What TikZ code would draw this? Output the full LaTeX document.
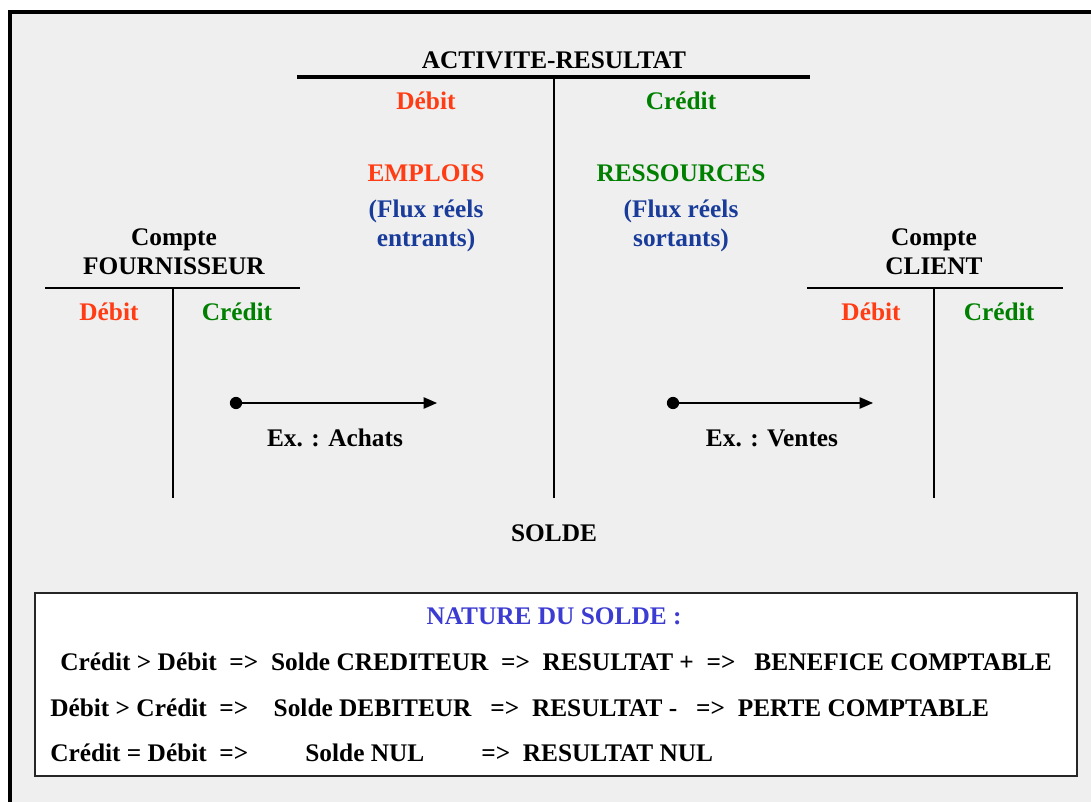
\documentclass[tikz,border=0pt]{standalone}
\usepackage{fontspec}
\setmainfont{Liberation Serif}
\usetikzlibrary{arrows.meta}

\definecolor{debit}{RGB}{255,60,20}
\definecolor{credit}{RGB}{0,128,0}
\definecolor{flux}{RGB}{25,60,155}
\definecolor{nature}{RGB}{60,60,210}
\definecolor{fond}{RGB}{239,239,239}

\begin{document}
\begin{tikzpicture}[x=0.75pt,y=-0.75pt,
  txt/.style={font=\bfseries\fontsize{19}{21.75}\selectfont,inner sep=0pt,align=center},
  deb/.style={txt,text=debit},
  cred/.style={txt,text=credit},
  fl/.style={txt,text=flux},
  ligne/.style={txt,anchor=west},
  fleche/.style={line width=1pt,-{Triangle[length=10pt,width=8.5pt]}}
]
\useasboundingbox (0,0) rectangle (1091,802);

% cadre
\fill[fond] (12,14) rectangle (1091,802);
\draw[line width=3pt] (10,802) -- (10,12) -- (1091,12);

% compte activite-resultat
\coordinate (arG) at (297,77);
\coordinate (arD) at (810,77);
\coordinate (arH) at (554,77);
\coordinate (arB) at (554,498);
\draw[line width=3pt] (arG) -- (arD);
\draw[line width=1.3pt] (arH) -- (arB);
\node [txt] (titre) at (554,60) {ACTIVITE-RESULTAT};
\node [deb] (arDeb) at (426,101) {Débit};
\node [cred] (arCred) at (681,101) {Crédit};
\node [deb] (emplois) at (426,173) {EMPLOIS};
\node [cred] (ressources) at (681,173) {RESSOURCES};
\node [fl] (fluxE) at (426,226) {(Flux réels\\entrants)};
\node [fl] (fluxS) at (681,226) {(Flux réels\\sortants)};
\node [txt] (solde) at (554,533) {SOLDE};

% compte fournisseur
\coordinate (foG) at (45,288);
\coordinate (foD) at (300,288);
\coordinate (foH) at (173,288);
\coordinate (foB) at (173,498);
\draw[line width=1.3pt] (foG) -- (foD);
\draw[line width=1.3pt] (foH) -- (foB);
\node [txt] (fourn) at (174,252) {Compte\\FOURNISSEUR};
\node [deb] (foDeb) at (109,312) {Débit};
\node [cred] (foCred) at (237,312) {Crédit};

% compte client
\coordinate (clG) at (807,288);
\coordinate (clD) at (1063,288);
\coordinate (clH) at (934,288);
\coordinate (clB) at (934,498);
\draw[line width=1.3pt] (clG) -- (clD);
\draw[line width=1.3pt] (clH) -- (clB);
\node [txt] (client) at (934,252) {Compte\\CLIENT};
\node [deb] (clDeb) at (871,312) {Débit};
\node [cred] (clCred) at (999,312) {Crédit};

% flux
\coordinate (achA) at (236,403);
\coordinate (achB) at (437,403);
\fill (achA) circle (4.6pt);
\draw[fleche] (achA) -- (achB);
\node [txt] (achats) at (335,438) {Ex. : Achats};

\coordinate (venA) at (673,403);
\coordinate (venB) at (873,403);
\fill (venA) circle (4.6pt);
\draw[fleche] (venA) -- (venB);
\node [txt] (ventes) at (772,438) {Ex. : Ventes};

% nature du solde
\draw[fill=white,line width=0.9pt,draw=black!85] (35,593) rectangle (1077,776);
\node [txt,text=nature] (nat) at (554,616) {NATURE DU SOLDE :};
\node [ligne] (l1) at (60,662) {Crédit > Débit\ \ =>\ \ Solde CREDITEUR\ \ =>\ \ RESULTAT\ +\ \ =>\ \ \ BENEFICE COMPTABLE};
\node [ligne] (l2) at (50,708) {Débit > Crédit\ \ =>\ \ \ \ Solde DEBITEUR\ \ \ =>\ \ RESULTAT -\ \ \ =>\ \ PERTE COMPTABLE};
\node [ligne] (l3) at (50,753) {Crédit = Débit\ \ =>\ \ \ \ \ \ \ \ \ Solde NUL\ \ \ \ \ \ \ \ \ =>\ \ RESULTAT NUL};

\end{tikzpicture}
\end{document}
